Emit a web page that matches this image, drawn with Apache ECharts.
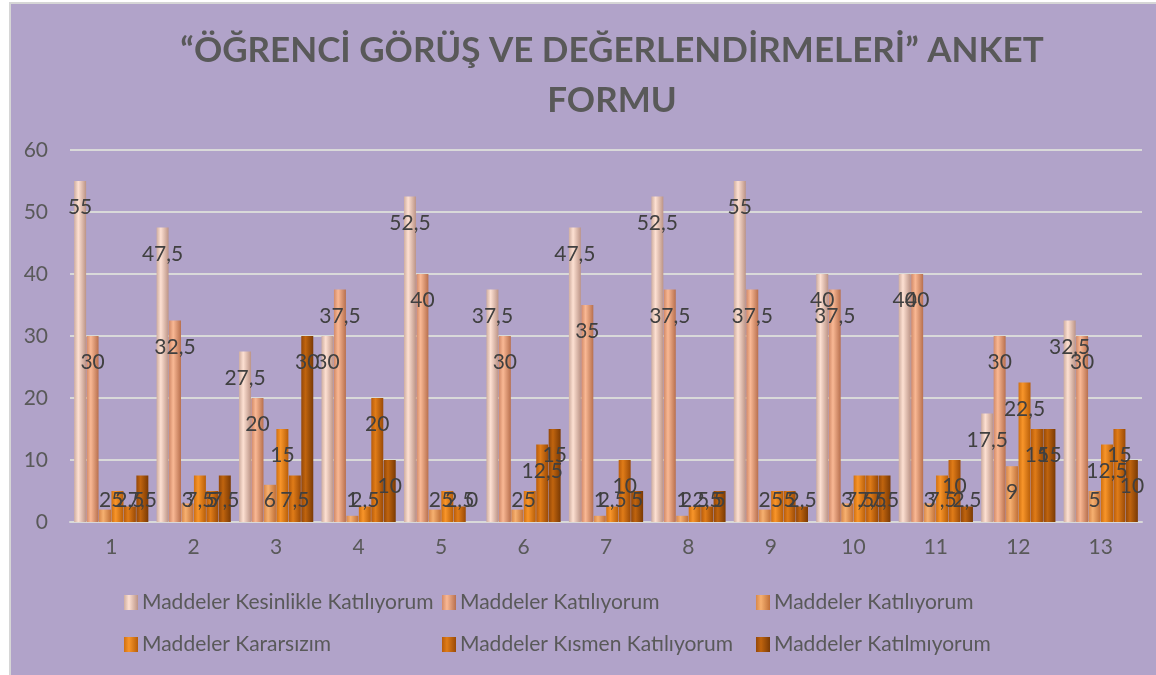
<!DOCTYPE html>
<html>
<head>
<meta charset="utf-8">
<script src="https://cdn.jsdelivr.net/npm/echarts@6/dist/echarts.min.js"></script>
<style>
  html, body { margin: 0; padding: 0; background: #ffffff; }
  #frame { position: absolute; left: 9px; top: 2px; width: 1147px; height: 673px;
           background: #b1a3c9; border-left: 2px solid #d6d6d6; border-top: 2px solid #d6d6d6; }
  #chart { position: absolute; left: 0; top: 0; width: 1156px; height: 675px; }
</style>
</head>
<body>
<div id="frame"></div>
<div id="chart"></div>
<script>
const categories = ['1', '2', '3', '4', '5', '6', '7', '8', '9', '10', '11', '12', '13'];
const seriesNames = [
  'Maddeler Kesinlikle Katılıyorum',
  'Maddeler Katılıyorum',
  'Maddeler Katılıyorum\u200b',
  'Maddeler Kararsızım',
  'Maddeler Kısmen Katılıyorum',
  'Maddeler Katılmıyorum'
];
const kesinlikle = [55, 47.5, 27.5, 30, 52.5, 37.5, 47.5, 52.5, 55, 40, 40, 17.5, 32.5];
const katiliyorumA = [30, 32.5, 20, 37.5, 40, 30, 35, 37.5, 37.5, 37.5, 40, 30, 30];
const katiliyorumB = [2, 3, 6, 1, 2, 2, 1, 1, 2, 3, 3, 9, 5];
const kararsizim = [5, 7.5, 15, 2.5, 5, 5, 2.5, 2.5, 5, 7.5, 7.5, 22.5, 12.5];
const kismen = [2.5, 5, 7.5, 20, 2.5, 12.5, 10, 2.5, 5, 7.5, 10, 15, 15];
const katilmiyorum = [7.5, 7.5, 30, 10, 0, 15, 5, 5, 2.5, 7.5, 2.5, 15, 10];
const yTicks = [0, 10, 20, 30, 40, 50, 60];

const allValues = [kesinlikle, katiliyorumA, katiliyorumB, kararsizim, kismen, katilmiyorum];
// cylinder shading: edge, highlight, edge
const shades = [
  ['#cfaea0', '#fde0d2', '#bc9486'],
  ['#d28a68', '#f9b894', '#b8704e'],
  ['#d8884a', '#f6b070', '#c07038'],
  ['#d07010', '#f8952a', '#b85e08'],
  ['#b85c0a', '#e07c18', '#9a4a06'],
  ['#944808', '#c0640e', '#7a3a04']
];
// legend slots: [left, top]
const legendSlots = [[124, 592], [442, 592], [756, 592], [124, 634], [442, 634], [756, 634]];

const chart = echarts.init(document.getElementById('chart'));
const font = 'Lato, "Open Sans", sans-serif';

const series = allValues.map(function(vals, i) {
  return {
    name: seriesNames[i],
    type: 'bar',
    barGap: '4%',
    barCategoryGap: '10%',
    itemStyle: {
      color: new echarts.graphic.LinearGradient(0, 0, 1, 0, [
        { offset: 0, color: shades[i][0] },
        { offset: 0.35, color: shades[i][1] },
        { offset: 1, color: shades[i][2] }
      ])
    },
    label: {
      show: true,
      position: 'insideTop',
      distance: 16,
      fontFamily: font,
      fontSize: 21,
      color: '#404040',
      formatter: function(p) { return String(p.value).replace('.', ','); }
    },
    // short bars: label sits just above the axis
    data: vals.map(function(v) {
      if (v < 8) {
        return { value: v, label: { position: 'insideBottom', distance: 11 } };
      }
      return v;
    })
  };
});

const legends = seriesNames.map(function(name, i) {
  return {
    data: [name],
    left: legendSlots[i][0],
    top: legendSlots[i][1],
    padding: 0,
    itemWidth: 14,
    itemHeight: 15,
    itemGap: 0,
    icon: 'rect',
    textStyle: { fontFamily: font, fontSize: 21, color: '#595959', padding: [0, 0, 0, -1] }
  };
});

chart.setOption({
  animation: false,
  backgroundColor: 'transparent',
  title: {
    text: '“ÖĞRENCİ GÖRÜŞ VE DEĞERLENDİRMELERİ” ANKET\nFORMU',
    left: 607,
    top: 21,
    textAlign: 'center',
    textStyle: {
      fontFamily: font,
      fontWeight: 'bold',
      fontSize: 35,
      lineHeight: 50,
      color: '#595959'
    }
  },
  legend: legends,
  grid: {
    left: 70,
    right: 14,
    top: 150,
    bottom: 153
  },
  xAxis: {
    type: 'category',
    data: categories,
    axisLine: { lineStyle: { color: '#d9d9d9', width: 2 } },
    axisTick: { show: false },
    axisLabel: { fontFamily: font, fontSize: 21, color: '#595959', margin: 15 }
  },
  yAxis: {
    type: 'value',
    min: yTicks[0],
    max: yTicks[yTicks.length - 1],
    interval: 10,
    axisLine: { show: false },
    axisTick: { show: false },
    axisLabel: { fontFamily: font, fontSize: 21, color: '#595959', margin: 22 },
    splitLine: { lineStyle: { color: '#d9d9d9', width: 2 } }
  },
  series: series
});
</script>
</body>
</html>
